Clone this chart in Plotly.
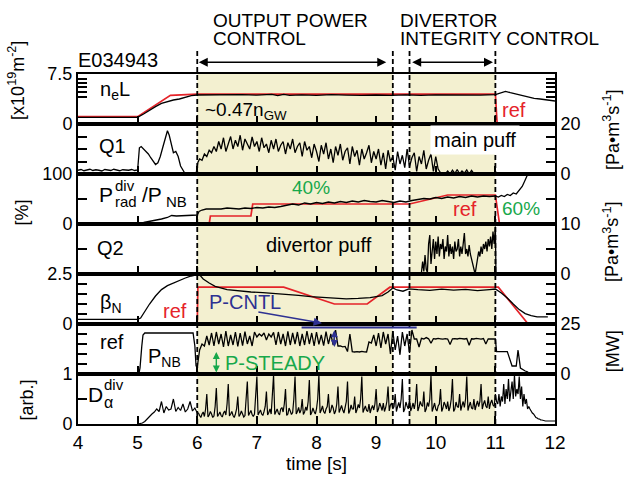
import numpy as np
import plotly.graph_objects as go
from plotly.subplots import make_subplots

FONT = "Arial, Liberation Sans, Helvetica, sans-serif"
RED = "#e52329"
GREEN = "#17a84b"
BLUE = "#2e3192"
SHADE = "#f3f0d0"

# control phases [s]
output_phase = (6.0, 9.28)
divertor_phase = (9.56, 11.0)
arrow_output = (6.0, 9.17)
arrow_divertor = (9.58, 10.96)

# ---- line-averaged density n_e L [1e19 m^-2] ----
nel_t = [4.0, 4.5, 5.0, 5.1, 5.2, 5.3, 5.4, 5.5, 5.6, 5.7, 5.8, 5.9, 6.0,
         6.25, 6.5, 6.75, 7.0, 7.25, 7.35, 7.45, 7.55, 7.75, 8.0, 8.25, 8.5, 8.75,
         9.0, 9.25, 9.5, 9.75, 10.0, 10.25, 10.5, 10.75, 11.0,
         11.1, 11.17, 11.25, 11.35, 11.45, 11.55, 11.65, 11.75, 11.85, 11.95, 12.0]
nel = [1.0, 1.0, 1.0, 1.5, 2.1, 2.6, 3.1, 3.4, 3.6, 3.75, 4.0, 4.25, 4.35,
       4.38, 4.3, 4.4, 4.33, 4.45, 4.25, 4.45, 4.3, 4.36, 4.3, 4.4, 4.33, 4.28,
       4.35, 4.3, 4.38, 4.3, 4.36, 4.32, 4.38, 4.33, 4.4,
       4.7, 4.9, 4.7, 4.5, 4.25, 4.0, 3.85, 3.75, 3.6, 3.5, 3.45]
nel_ref_t = [4.0, 5.0, 5.55, 5.7, 6.0, 11.0, 11.03, 12.0]
nel_ref = [1.1, 1.1, 4.3, 4.35, 4.48, 4.5, 0.0, 0.0]

# ---- main gas puff Q1 [Pa m^3 s^-1] ----
q1_base = [1.5, 1.8, 1.3, 1.6, 1.9, 1.4, 1.7, 1.5, 1.2, 1.8, 1.6,
           1.4, 1.9, 1.5, 1.3, 1.7, 1.6, 1.5, 1.8, 1.4, 1.6]          # 4.00..5.00, 0.05 s
q1_burst_t = [5.03, 5.06, 5.1, 5.14, 5.18, 5.22, 5.26, 5.3, 5.34, 5.38, 5.42,
              5.46, 5.5, 5.53, 5.56, 5.6, 5.64, 5.68, 5.72, 5.76, 5.8, 5.98, 6.01]
q1_burst = [10.5, 11, 10, 9, 8, 6.5, 5, 3.8, 4.5, 7, 10.5,
            14, 17.3, 15.5, 12, 8.5, 9, 7, 3.2, 1.5, 0, 0, 4.6]
q1_main = [6, 5.5, 8, 7, 9.5, 8.5, 11, 9, 13, 10, 14.5, 9, 12, 15, 10, 13.5, 11, 15.5, 9.5, 14, 12, 10, 14.8, 11, 13,
           9, 14.5, 10.5, 12, 8.5, 13.5, 10, 14, 9, 11.5, 13, 8, 12.5, 10, 14, 8.5, 11, 12.5, 7, 13, 9.5, 11, 6.5, 12, 9,
           5, 11.5, 8, 12.5, 6, 10, 4.5, 11, 7.5, 12, 5.5, 9, 10.5, 4, 11, 7, 9.5, 3.5, 10, 6, 8.5, 11.5, 4.5, 9, 6,
           10, 3.5, 8.5, 2, 9.5, 5, 7, 1.5, 9, 4, 7.5, 2.5, 10, 3, 6.5, 8.5, 1, 7, 4, 9.5, 2, 5.5, 8, 1, 7,
           2, 0.5]                                                       # from 6.04, 0.04 s
q1_tail = [0, 1.2, 0, 1.5, 0.2, 1.8, 0, 1.2, 0.3, 1.6, 0, 1.4, 0.1, 0]   # from 10.16, 0.04 s

# ---- divertor radiation fraction P_rad^div / P_NB [%] ----
prad_t = [5.0, 5.02, 5.1, 5.2, 5.3, 5.4, 5.5, 5.57, 5.65, 5.75, 5.85, 5.95, 6.0, 6.03, 6.08, 6.15]
prad = [7, 2, 3, 5, 7, 10, 13, 17, 16, 17, 17.5, 18, 18, 25, 28, 30]
prad_mid = [30, 31, 30, 32, 31, 30, 32, 31, 33, 32, 34, 33, 35, 37, 40, 38, 42, 40, 43, 41,
            44, 42, 45, 43, 46, 44, 47, 45, 44, 47, 45, 43, 46, 44, 47, 49, 51, 50, 53, 51,
            54, 52, 55, 53, 56, 54, 56, 55, 56]                        # 6.2..11.0, 0.1 s
prad_tail_t = [11.05, 11.1, 11.15, 11.2, 11.25, 11.3, 11.35, 11.4, 11.45, 11.5, 11.55, 11.6]
prad_tail = [54, 57, 55, 59, 57, 62, 60, 67, 75, 88, 100, 115]
prad_ref_t = [4.0, 6.2, 6.22, 6.9, 6.93, 9.56, 10.2, 11.0, 11.07, 12.0]
prad_ref = [0, 0, 16, 16, 40, 40, 58, 58, 0, 0]

# ---- divertor gas puff Q2 [Pa m^3 s^-1] ----
q2_pre_t = [4.0, 7.28, 7.3, 7.32, 9.72]
q2_pre = [0, 0, 0.7, 0, 0]
q2_main = [0, 0.3, 2.5, 0.5, 3.8, 1.0, 0.3, 6.0, 7.8, 2.0, 4.0, 7.0, 3.0, 6.5, 4.0, 7.5,
           3.5, 6.0, 5.0, 7.0, 3.0, 5.5, 4.5, 7.8, 3.5, 6.0, 4.0, 5.5, 3.0, 6.5, 4.5, 5.0,
           7.0, 3.5, 5.5, 4.0, 6.0, 8.2, 4.0, 5.0, 3.5, 5.8, 4.0, 3.0, 2.0, 0.8, 0.0, 1.5,
           3.0, 4.5, 3.5, 5.5, 4.0, 6.0, 5.0, 6.5, 4.5, 7.0, 5.5, 7.5, 5.0, 8.5, 6.0, 9.5]  # from 9.74, 0.02 s

# ---- normalized beta ----
bn_t = [4.0, 5.0, 5.05, 5.1, 5.2, 5.3, 5.4, 5.5, 5.6, 5.7, 5.8, 5.9, 6.0, 6.05, 6.1, 6.2,
        6.3, 6.5, 6.7, 6.9, 7.1, 7.3, 7.5, 7.7, 7.9, 8.1, 8.3, 8.5, 8.7, 8.9, 9.1, 9.2,
        9.28, 9.35, 9.45, 9.55, 9.7, 9.9, 10.1, 10.3, 10.5, 10.7, 10.9, 11.0,
        11.1, 11.2, 11.3, 11.4, 11.5, 11.6, 11.7, 11.88]
bn = [0.23, 0.23, 0.3, 0.55, 1.0, 1.4, 1.72, 1.92, 2.05, 2.2, 2.3, 2.4, 2.47, 2.42, 2.25, 2.05,
      1.88, 1.72, 1.65, 1.6, 1.57, 1.53, 1.5, 1.43, 1.37, 1.33, 1.28, 1.26, 1.28, 1.32, 1.42, 1.6,
      1.8, 1.7, 1.64, 1.76, 1.72, 1.68, 1.74, 1.69, 1.73, 1.67, 1.72, 1.75,
      1.55, 1.3, 1.0, 0.72, 0.52, 0.42, 0.36, 0.36]
bn_ref_t = [6.0, 6.01, 7.45, 8.3, 8.85, 9.23, 11.05, 11.55]
bn_ref = [0, 1.84, 1.84, 1.0, 1.0, 1.84, 1.84, 0]

# ---- neutral beam power P_NB [MW] ----
pnb_pre_t = [5.02, 5.04, 5.07, 5.09, 5.12, 5.93, 5.96, 5.98, 6.0, 6.02]
pnb_pre = [0, 3, 14, 19.5, 20.5, 20.5, 14, 4, 3.5, 8]
pnb_a = [12, 15, 14, 19, 14.5, 20.5, 14, 21, 15, 20, 13.5, 21.5, 14, 19.5, 14.5, 21, 13.8, 20.5, 14.2, 21.2,
         15, 19, 14, 21, 18.5, 20, 19, 20.5, 17, 20, 18.5, 20.8, 14.5, 21, 15, 20, 14, 21.3, 14.5, 20.5,
         15, 21, 14, 20, 14.5, 21.5, 15, 20.5, 14, 21, 14.8, 19.5, 14.2, 21.2, 15, 20, 14.5, 22, 14]  # from 6.04, 0.04 s
pnb_b = [14, 13.6, 13.8, 11.2, 20, 11.2, 11, 11.2, 11, 11.3, 11.1, 11, 16, 15.5, 19.5]                  # from 8.40
pnb_c = [14, 20.5, 13, 21, 15, 20, 10, 21.5, 12, 19, 9.6, 21, 14, 20, 10.5, 22, 17.5]                     # from 9.00
pnb_d = [17.5, 13.5, 17.8, 17.5, 18.2, 17.6, 15.4, 17.7, 17.5, 17.8, 17.6, 17.4, 17.7, 17.5, 14.8, 17.6, 17.7,
         17.5, 17.8, 17.6, 17.5, 17.7, 14.4, 17.6, 17.5, 17.8, 17.6, 17.4, 17.7, 15, 17.6, 17.5, 17.7, 17.5]  # from 9.68
pnb_tail_t = [11.02, 11.2, 11.28, 11.35, 11.38, 11.42, 11.5, 11.55]
pnb_tail = [11.2, 11.2, 4, 4, 12, 3, 1.5, 1]
p_cntl_level = 23.2
p_cntl_span = (7.75, 9.68)

# ---- divertor D-alpha [arb.] ----
da_pre = [0, 0.01, 0.02, 0.05, 0.1, 0.17, 0.2, 0.24, 0.3, 0.25, 0.45, 0.22, 0.35, 0.28, 0.3, 0.5,
          0.25, 0.33, 0.27, 0.4, 0.24, 0.3, 0.45, 0.26, 0.32, 0.22]                 # 5.00..6.00, 0.04 s
da_main = [  # from 6.02, 0.02 s
    0.22, 0.17, 0.13, 0.2, 0.24, 0.15, 0.3, 0.6, 0.14, 0.18, 0.25, 0.2, 0.13, 0.16, 0.35, 0.72, 0.15, 0.19,
    0.24, 0.17, 0.14, 0.22, 0.26, 0.18, 0.4, 0.8, 0.16, 0.2, 0.25, 0.17, 0.13, 0.2, 0.3, 0.55, 0.15, 0.19,
    0.26, 0.2, 0.14, 0.17, 0.45, 0.85, 0.17, 0.22, 0.27, 0.19, 0.15, 0.2, 0.5, 0.95,
    0.18, 0.22, 0.28, 0.2, 0.17, 0.25, 0.35, 0.65, 0.18, 0.23, 0.3, 0.2, 0.5, 0.98, 0.19, 0.25, 0.3, 0.22,
    0.18, 0.3, 0.33, 0.24, 0.4, 0.7, 0.17, 0.2, 0.32, 0.26, 0.19, 0.23, 0.5, 0.95, 0.2, 0.25, 0.33, 0.22,
    0.28, 0.5, 0.19, 0.24, 0.34, 0.27, 0.45, 0.88, 0.18, 0.23, 0.32, 0.25, 0.2, 0.3,
    0.5, 0.98, 0.22, 0.28, 0.36, 0.25, 0.21, 0.3, 0.35, 0.6, 0.22, 0.27, 0.38, 0.32, 0.2, 0.26, 0.4, 0.75,
    0.23, 0.3, 0.37, 0.28, 0.22, 0.33, 0.45, 0.85, 0.21, 0.27, 0.38, 0.3, 0.3, 0.55, 0.22, 0.29, 0.39, 0.32,
    0.5, 0.95, 0.23, 0.3, 0.36, 0.27, 0.25, 0.4, 0.22, 0.31, 0.37, 0.28, 0.4, 0.7,
    0.24, 0.3, 0.42, 0.35, 0.27, 0.42, 0.25, 0.33, 0.45, 0.75, 0.26, 0.38, 0.42, 0.3, 0.35, 0.6, 0.25, 0.35,
    0.43, 0.32, 0.5, 0.9, 0.24, 0.3, 0.44, 0.36, 0.3, 0.5, 0.26, 0.33, 0.42, 0.3, 0.45, 0.8, 0.26, 0.34,
    0.45, 0.38, 0.35, 0.65, 0.24, 0.3, 0.43, 0.35, 0.5, 0.97, 0.25, 0.33, 0.42, 0.3,
    0.26, 0.36, 0.4, 0.7, 0.25, 0.32, 0.44, 0.38, 0.3, 0.45, 0.26, 0.34, 0.5, 0.9, 0.25, 0.3, 0.44, 0.35,
    0.33, 0.6, 0.27, 0.37, 0.45, 0.33, 0.5, 0.95, 0.27, 0.36, 0.44, 0.32, 0.3, 0.5, 0.28, 0.38, 0.46, 0.35,
    0.45, 0.8, 0.3, 0.4, 0.47, 0.36, 0.32, 0.55, 0.3, 0.42, 0.48, 0.38, 0.35, 0.6]
da_tail = [  # from 11.02, 0.02 s
    0.45, 0.4, 0.6, 0.35, 0.55, 0.45, 0.8, 0.4, 0.7, 0.5, 0.9, 0.45, 0.62, 0.85, 0.5, 0.98, 0.55, 0.7,
    0.6, 0.95, 0.5, 0.75, 0.35, 0.6, 0.4,
    0.5, 0.3, 0.35, 0.3, 0.25, 0.22, 0.2, 0.15, 0.13, 0.12, 0.1, 0.1, 0.08, 0.08, 0.07, 0.07, 0.06, 0.06,
    0.06, 0.06, 0.06, 0.06, 0.06, 0.06]


def grid(start, step, values):
    return list(np.round(start + step * np.arange(len(values)), 3))


q1_t = grid(4.0, 0.05, q1_base) + q1_burst_t + grid(6.04, 0.04, q1_main) + grid(10.16, 0.04, q1_tail) + [10.72, 12.0]
q1 = q1_base + q1_burst + q1_main + q1_tail + [0, 0]

prad_all_t = prad_t + grid(6.2, 0.1, prad_mid) + prad_tail_t
prad_all = prad + prad_mid + prad_tail

q2_grid = grid(9.74, 0.02, q2_main)
q2_t = q2_pre_t + q2_grid + [q2_grid[-1] + 0.01, 12.0]
q2 = q2_pre + q2_main + [0, 0]

pnb_t = pnb_pre_t + grid(6.04, 0.04, pnb_a) + grid(8.40, 0.04, pnb_b) + grid(9.0, 0.04, pnb_c) \
    + grid(9.68, 0.04, pnb_d) + pnb_tail_t
pnb = pnb_pre + pnb_a + pnb_b + pnb_c + pnb_d + pnb_tail

da_tail_t = grid(11.02, 0.02, da_tail)
da_t = grid(5.0, 0.04, da_pre) + grid(6.02, 0.02, da_main) + da_tail_t + [12.0]
da = da_pre + da_main + da_tail + [da_tail[-1]]

# ---- figure ----
W, H = 625, 482
L, R, T, B = 78, 555, 74, 430


def px(x):
    return (x - L) / (R - L)


def py(y):
    return (B - y) / (B - T)


fig = make_subplots(rows=7, cols=1, shared_xaxes=True, vertical_spacing=0)

blk = dict(color="black", width=1.3)
red = dict(color=RED, width=1.7)


def add(row, t, v, line):
    fig.add_trace(go.Scatter(x=t, y=v, mode="lines", line=line, hoverinfo="skip"), row=row, col=1)


add(1, nel_ref_t, nel_ref, red)
add(1, nel_t, nel, blk)
add(2, q1_t, q1, blk)
add(3, prad_ref_t, prad_ref, red)
add(3, prad_all_t, prad_all, blk)
add(4, q2_t, q2, blk)
add(5, bn_ref_t, bn_ref, red)
add(5, bn_t, bn, blk)
add(6, pnb_t, pnb, blk)
add(7, da_t, da, dict(color="black", width=1.2))

yaxes = [
    dict(range=[0, 7.5], tickvals=[0, 4.1, 4.8, 5.5, 6.1, 6.7, 7.5], ticktext=["0", "", "", "", "", "", "7.5"], side="left"),
    dict(range=[0, 20], tickvals=[0, 5, 10, 15, 20], ticktext=["0", "", "", "", "20"], side="right"),
    dict(range=[0, 100], tickvals=[0, 50, 100], ticktext=["0", "", "100"], side="left"),
    dict(range=[0, 10], tickvals=[0, 5, 10], ticktext=["0", "", "10"], side="right"),
    dict(range=[0, 2.5], tickvals=[0, 0.5, 1, 1.5, 2, 2.5], ticktext=["0", "", "", "", "", "2.5"], side="left"),
    dict(range=[0, 25], tickvals=[0, 5, 10, 15, 20, 25], ticktext=["0", "", "", "", "", "25"], side="right"),
    dict(range=[0, 1], tickvals=[0, 0.5, 1], ticktext=["0", "", "1"], side="left"),
]
for i, ya in enumerate(yaxes, start=1):
    fig.update_yaxes(row=i, col=1, showline=True, linewidth=2, linecolor="black", mirror="ticks",
                     ticks="inside", ticklen=9, tickwidth=1.5, tickcolor="black",
                     showgrid=False, zeroline=False, tickfont=dict(size=18, color="black"), **ya)
    fig.update_xaxes(row=i, col=1, range=[4, 12], tickvals=list(range(4, 13)), showline=True, linewidth=2,
                     linecolor="black", mirror=True, ticks="inside", ticklen=8, tickwidth=1.5,
                     tickcolor="black", showgrid=False, zeroline=False,
                     tickfont=dict(size=19, color="black"), showticklabels=(i == 7))
fig.update_xaxes(row=7, col=1, title_text="time [s]", title_font=dict(size=19, color="black"), title_standoff=4)

shapes = []
for a, b in (output_phase, divertor_phase):
    shapes.append(dict(type="rect", xref="x", yref="paper", x0=a, x1=b, y0=0, y1=1,
                       fillcolor=SHADE, line_width=0, layer="below"))
for xv in (output_phase[0], output_phase[1], divertor_phase[0], divertor_phase[1]):
    shapes.append(dict(type="line", xref="x", yref="paper", x0=xv, x1=xv, y0=0, y1=py(50),
                       line=dict(color="black", width=1.8, dash="5px,3px"), layer="above"))
shapes.append(dict(type="line", xref="x6", yref="y6", x0=p_cntl_span[0], x1=p_cntl_span[1],
                   y0=p_cntl_level, y1=p_cntl_level, line=dict(color=BLUE, width=2)))

ann = []


def text(s, x, y, size=20, color="black", **kw):
    ann.append(dict(text=s, x=px(x), y=py(y), xref="paper", yref="paper", xanchor="left",
                    yanchor="middle", showarrow=False, font=dict(size=size, color=color), **kw))


def vtext(s, x, y, size=18):
    ann.append(dict(text=s, x=px(x), y=py(y), xref="paper", yref="paper", xanchor="center",
                    yanchor="middle", showarrow=False, textangle=-90, font=dict(size=size, color="black")))


text("OUTPUT POWER", 211, 20, 19)
text("CONTROL", 211, 38, 19)
text("DIVERTOR", 398, 20, 19)
text("INTEGRITY CONTROL", 398, 38, 19)
text("E034943", 76, 60, 20)

text("n<sub>e</sub>L", 98, 91, 20)
text("~0.47n<sub>GW</sub>", 203, 112, 19)
text("ref", 500, 111, 20, RED)
text("Q1", 97, 147, 20)
text("main puff", 430, 141, 20, bgcolor="white", borderpad=3)
text("P", 97, 197, 21)
text("div", 113, 187, 15)
text("rad", 113, 204, 15)
text("/P", 140, 197, 21)
text("NB", 164, 204, 15)
text("40%", 290, 189, 19, GREEN)
text("ref", 451, 211, 20, RED)
text("60%", 500, 211, 19, GREEN)
text("Q2", 95, 251, 20)
text("divertor puff", 264, 248, 20)
text("β<sub>N</sub>", 98, 307, 20)
text("ref", 161, 315, 20, RED)
text("P-CNTL", 207, 306, 20, BLUE)
text("ref", 98, 347, 20)
text("P<sub>NB</sub>", 146, 362, 20)
text("P-STEADY", 223, 368, 20, GREEN)
text("D", 86, 400, 21)
text("div", 102, 390, 15)
text("α", 102, 408, 16)

vtext("[x10<sup>19</sup>m<sup>-2</sup>]", 17, 80)
vtext("[%]", 22, 215)
vtext("[arb.]", 27, 406)
vtext("[Pa•m<sup>3</sup>s<sup>-1</sup>]", 611, 131)
vtext("[Pa•m<sup>3</sup>s<sup>-1</sup>]", 611, 245)
vtext("[MW]", 613, 356)

# phase arrows above the panels
for a, b in (arrow_output, arrow_divertor):
    ann.append(dict(text="", x=b, y=py(62), xref="x", yref="paper", axref="x", ax=a, ayref="pixel", ay=0,
                    showarrow=True, arrowhead=2, arrowside="end+start", arrowsize=1.2, arrowwidth=1.5,
                    arrowcolor="black"))

# P-CNTL pointer and regulation bands
ann.append(dict(text="", x=8.09, y=py(327.5), xref="x", yref="paper", axref="x", ax=7.0, ayref="pixel",
                ay=-11.5, showarrow=True, arrowhead=2, arrowsize=1.1, arrowwidth=1.5, arrowcolor=BLUE))
ann.append(dict(text="", x=8.3, y=13.5, xref="x6", yref="y6", axref="x6", ax=8.3, ayref="y6", ay=22.6,
                showarrow=True, arrowhead=2, arrowside="end+start", arrowsize=1.0, arrowwidth=1.4,
                arrowcolor=BLUE))
ann.append(dict(text="", x=6.32, y=0.8, xref="x6", yref="y6", axref="x6", ax=6.32, ayref="y6", ay=11.8,
                showarrow=True, arrowhead=2, arrowside="end+start", arrowsize=1.0, arrowwidth=1.4,
                arrowcolor=GREEN))

fig.update_layout(width=W, height=H, margin=dict(l=L, r=W - R, t=T, b=H - B),
                  paper_bgcolor="white", plot_bgcolor="rgba(0,0,0,0)", showlegend=False,
                  font=dict(family=FONT, color="black"), shapes=shapes, annotations=ann)

fig.write_html("out.html")
